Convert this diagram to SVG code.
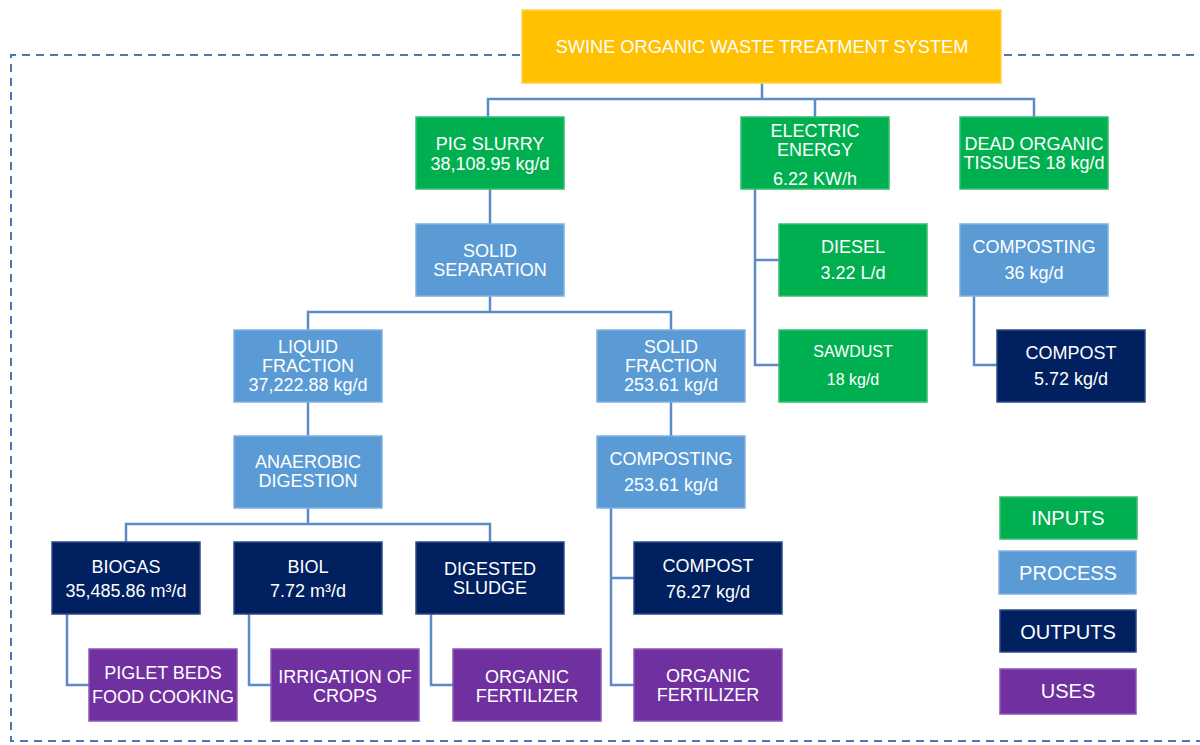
<svg xmlns="http://www.w3.org/2000/svg" width="1200" height="745" viewBox="0 0 1200 745">
<style>
.box{stroke-width:1.5}
.in{fill:#00B050;stroke:#33C06F}
.pr{fill:#5B9BD5;stroke:#7FB1E0}
.out{fill:#002060;stroke:#2C4A85}
.use{fill:#7030A0;stroke:#8C55B8}
.top{fill:#FFC000;stroke:#FFD24D}
text{font-family:"Liberation Sans",Arial,sans-serif;fill:#fff;text-anchor:middle}
.n{font-size:18px}
.t{font-size:18.2px}
.w{font-size:18px}
.s{font-size:16px}
.lg{font-size:20px}
.con path{fill:none;stroke:#5B8CC8;stroke-width:2.5}
.frame{fill:none;stroke:#4F78A8;stroke-width:2;stroke-dasharray:8 6}
</style>
<g id="frame">
<path class="frame" d="M520 55 H11 V741 H1200"/>
<path class="frame" d="M1004 55 H1200"/>
</g>
<g class="con" id="connectors">
<path d="M762 83 V99 M488 117 V99 H1034 V117 M815 99 V117"/>
<path d="M490 189 V224"/>
<path d="M490 296 V312 M308 330 V312 H671 V330"/>
<path d="M308 402 V436"/>
<path d="M671 402 V436"/>
<path d="M308 508 V524 M126 542 V524 H490 V542"/>
<path d="M67 614 V685 H89"/>
<path d="M249 614 V685 H271"/>
<path d="M431 614 V685 H453"/>
<path d="M611 508 V685 H634 M611 578 H634"/>
<path d="M755 189 V365 H779 M755 260 H779"/>
<path d="M974 296 V365 H997"/>
</g>
<g id="title"><rect class="box top" x="522" y="10" width="479" height="73"/><text class="t" x="762" y="53">SWINE ORGANIC WASTE TREATMENT SYSTEM</text></g>
<g id="pig-slurry"><rect class="box in" x="416" y="117" width="148" height="72"/><text class="n" x="490" y="150">PIG SLURRY</text><text class="n" x="490" y="170">38,108.95 kg/d</text></g>
<g id="electric-energy"><rect class="box in" x="741" y="117" width="148" height="72"/><text class="n" x="815" y="137">ELECTRIC</text><text class="n" x="815" y="156">ENERGY</text><text class="n" x="815" y="185">6.22 KW/h</text></g>
<g id="dead-tissues"><rect class="box in" x="960" y="117" width="148" height="72"/><text class="n" x="1034" y="150">DEAD ORGANIC</text><text class="n" x="1034" y="169">TISSUES 18 kg/d</text></g>
<g id="solid-separation"><rect class="box pr" x="416" y="224" width="148" height="72"/><text class="n" x="490" y="257">SOLID</text><text class="n" x="490" y="276">SEPARATION</text></g>
<g id="diesel"><rect class="box in" x="779" y="224" width="148" height="72"/><text class="w" x="853" y="253">DIESEL</text><text class="w" x="853" y="279">3.22 L/d</text></g>
<g id="composting-36"><rect class="box pr" x="960" y="224" width="148" height="72"/><text class="w" x="1034" y="253">COMPOSTING</text><text class="w" x="1034" y="279">36 kg/d</text></g>
<g id="liquid-fraction"><rect class="box pr" x="234" y="330" width="148" height="72"/><text class="n" x="308" y="353">LIQUID</text><text class="n" x="308" y="372">FRACTION</text><text class="n" x="308" y="391">37,222.88 kg/d</text></g>
<g id="solid-fraction"><rect class="box pr" x="597" y="330" width="148" height="72"/><text class="n" x="671" y="353">SOLID</text><text class="n" x="671" y="372">FRACTION</text><text class="n" x="671" y="391">253.61 kg/d</text></g>
<g id="sawdust"><rect class="box in" x="779" y="330" width="148" height="72"/><text class="s" x="853" y="357">SAWDUST</text><text class="s" x="853" y="385">18 kg/d</text></g>
<g id="compost-572"><rect class="box out" x="997" y="330" width="148" height="72"/><text class="w" x="1071" y="359">COMPOST</text><text class="w" x="1071" y="385">5.72 kg/d</text></g>
<g id="anaerobic-digestion"><rect class="box pr" x="234" y="436" width="148" height="72"/><text class="n" x="308" y="468">ANAEROBIC</text><text class="n" x="308" y="487">DIGESTION</text></g>
<g id="composting-253"><rect class="box pr" x="597" y="436" width="148" height="72"/><text class="w" x="671" y="465">COMPOSTING</text><text class="w" x="671" y="491">253.61 kg/d</text></g>
<g id="biogas"><rect class="box out" x="52" y="542" width="148" height="72"/><text class="n" x="126" y="573">BIOGAS</text><text class="n" x="126" y="597">35,485.86 m³/d</text></g>
<g id="biol"><rect class="box out" x="234" y="542" width="148" height="72"/><text class="n" x="308" y="573">BIOL</text><text class="n" x="308" y="597">7.72 m³/d</text></g>
<g id="digested-sludge"><rect class="box out" x="416" y="542" width="148" height="72"/><text class="n" x="490" y="575">DIGESTED</text><text class="n" x="490" y="594">SLUDGE</text></g>
<g id="compost-7627"><rect class="box out" x="634" y="542" width="148" height="72"/><text class="n" x="708" y="572">COMPOST</text><text class="n" x="708" y="598">76.27 kg/d</text></g>
<g id="piglet-beds"><rect class="box use" x="89" y="649" width="148" height="72"/><text class="n" x="163" y="679">PIGLET BEDS</text><text class="n" x="163" y="703">FOOD COOKING</text></g>
<g id="irrigation"><rect class="box use" x="271" y="649" width="148" height="72"/><text class="n" x="345" y="683">IRRIGATION OF</text><text class="n" x="345" y="702">CROPS</text></g>
<g id="organic-fertilizer-1"><rect class="box use" x="453" y="649" width="148" height="72"/><text class="n" x="527" y="683">ORGANIC</text><text class="n" x="527" y="702">FERTILIZER</text></g>
<g id="organic-fertilizer-2"><rect class="box use" x="634" y="649" width="148" height="72"/><text class="n" x="708" y="682">ORGANIC</text><text class="n" x="708" y="701">FERTILIZER</text></g>
<g id="legend-inputs"><rect class="box in" x="1000" y="497" width="137" height="42"/><text class="lg" x="1068" y="525">INPUTS</text></g>
<g id="legend-process"><rect class="box pr" x="999" y="551" width="137" height="43"/><text class="lg" x="1068" y="580">PROCESS</text></g>
<g id="legend-outputs"><rect class="box out" x="1000" y="610" width="136" height="42"/><text class="lg" x="1068" y="639">OUTPUTS</text></g>
<g id="legend-uses"><rect class="box use" x="1000" y="669" width="136" height="45"/><text class="lg" x="1068" y="698">USES</text></g>
</svg>
